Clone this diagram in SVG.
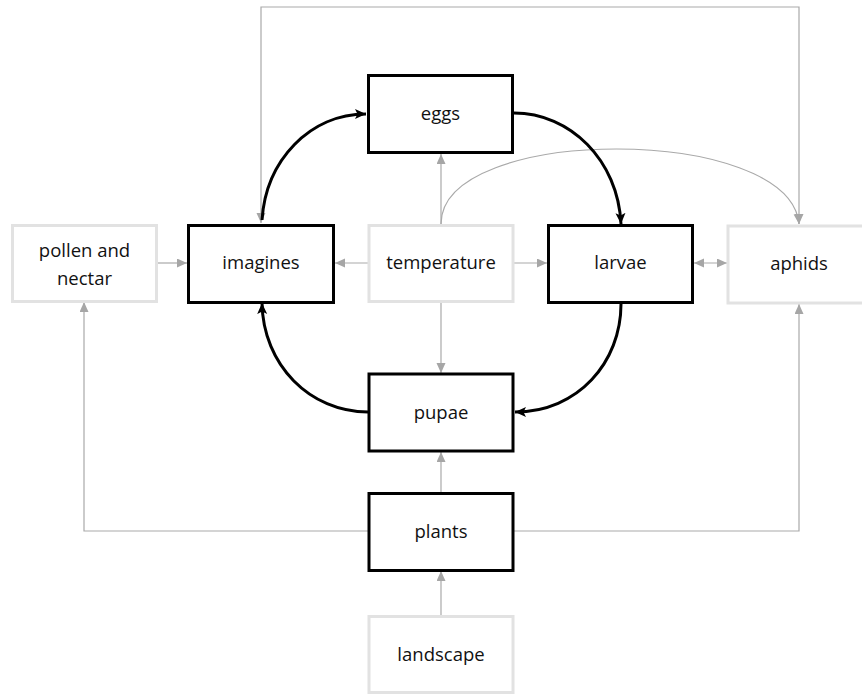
<svg xmlns="http://www.w3.org/2000/svg" width="862" height="695" viewBox="0 0 862 695">
<style>
.box{fill:#ffffff;stroke-width:3}
.main{stroke:#000000}
.aux{stroke:#e2e2e2}
.lbl{font-family:"Open Sans","Liberation Sans",sans-serif;font-size:18.5px;fill:#111111;text-anchor:middle}
.g{fill:none;stroke:#a9a9a9;stroke-width:1.2}
.k{fill:none;stroke:#000000;stroke-width:3}
</style>
<defs>
<marker id="ga" markerUnits="userSpaceOnUse" markerWidth="11" markerHeight="10" refX="10" refY="4.5" orient="auto-start-reverse" viewBox="0 0 11 10">
<path d="M0,0 L10,4.5 L0,9 z" fill="#a6a6a6"/>
</marker>
<marker id="ka" markerUnits="userSpaceOnUse" markerWidth="12" markerHeight="11" refX="11" refY="5" orient="auto" viewBox="0 0 12 11">
<path d="M0,0 L11,5 L0,10 L2.5,5 z" fill="#000000"/>
</marker>
</defs>
<g id="connectors">
<path class="g" d="M261,223 V7 H799 V224" marker-start="url(#ga)" marker-end="url(#ga)"/>
<path class="g" d="M441,224 C441,124 790,124 799,224" marker-end="url(#ga)"/>
<path class="g" d="M157,263 H187" marker-end="url(#ga)"/>
<path class="g" d="M368,263 H335" marker-end="url(#ga)"/>
<path class="g" d="M514,263 H547" marker-end="url(#ga)"/>
<path class="g" d="M441,224 V154" marker-end="url(#ga)"/>
<path class="g" d="M441,302 V373" marker-end="url(#ga)"/>
<path class="g" d="M441,492 V452" marker-end="url(#ga)"/>
<path class="g" d="M441,615 V571" marker-end="url(#ga)"/>
<path class="g" d="M368,531 H84 V302" marker-end="url(#ga)"/>
<path class="g" d="M514,531 H799 V304" marker-end="url(#ga)"/>
<path class="g" d="M694,263 H727" marker-start="url(#ga)" marker-end="url(#ga)"/>
<path class="k" d="M262,220 C266,160 310,114 366,114" marker-end="url(#ka)"/>
<path class="k" d="M514,113 C570,113 618,160 621,224" marker-end="url(#ka)"/>
<path class="k" d="M621,304 C621,362 578,412 515,412" marker-end="url(#ka)"/>
<path class="k" d="M368,412 C310,412 263,365 262,303" marker-end="url(#ka)"/>
</g>
<g id="eggs"><rect class="box main" x="368.5" y="75.5" width="144" height="77"/><text class="lbl" x="440.5" y="120">eggs</text></g>
<g id="imagines"><rect class="box main" x="188.5" y="225.5" width="145" height="77"/><text class="lbl" x="261" y="269">imagines</text></g>
<g id="temperature"><rect class="box aux" x="369" y="225.5" width="144" height="76"/><text class="lbl" x="441" y="269">temperature</text></g>
<g id="larvae"><rect class="box main" x="548.5" y="225.5" width="144" height="77"/><text class="lbl" x="620.5" y="269">larvae</text></g>
<g id="aphids"><rect class="box aux" x="728" y="226" width="146" height="77"/><text class="lbl" x="799" y="270">aphids</text></g>
<g id="pollen-and-nectar"><rect class="box aux" x="12.5" y="225.5" width="144" height="76"/><text class="lbl" x="84.5" y="257">pollen and</text><text class="lbl" x="84.5" y="285">nectar</text></g>
<g id="pupae"><rect class="box main" x="369" y="374" width="144" height="77"/><text class="lbl" x="441" y="419">pupae</text></g>
<g id="plants"><rect class="box main" x="369" y="493.5" width="144" height="77"/><text class="lbl" x="441" y="538">plants</text></g>
<g id="landscape"><rect class="box aux" x="369" y="616.5" width="144" height="76"/><text class="lbl" x="441" y="661">landscape</text></g>
</svg>
